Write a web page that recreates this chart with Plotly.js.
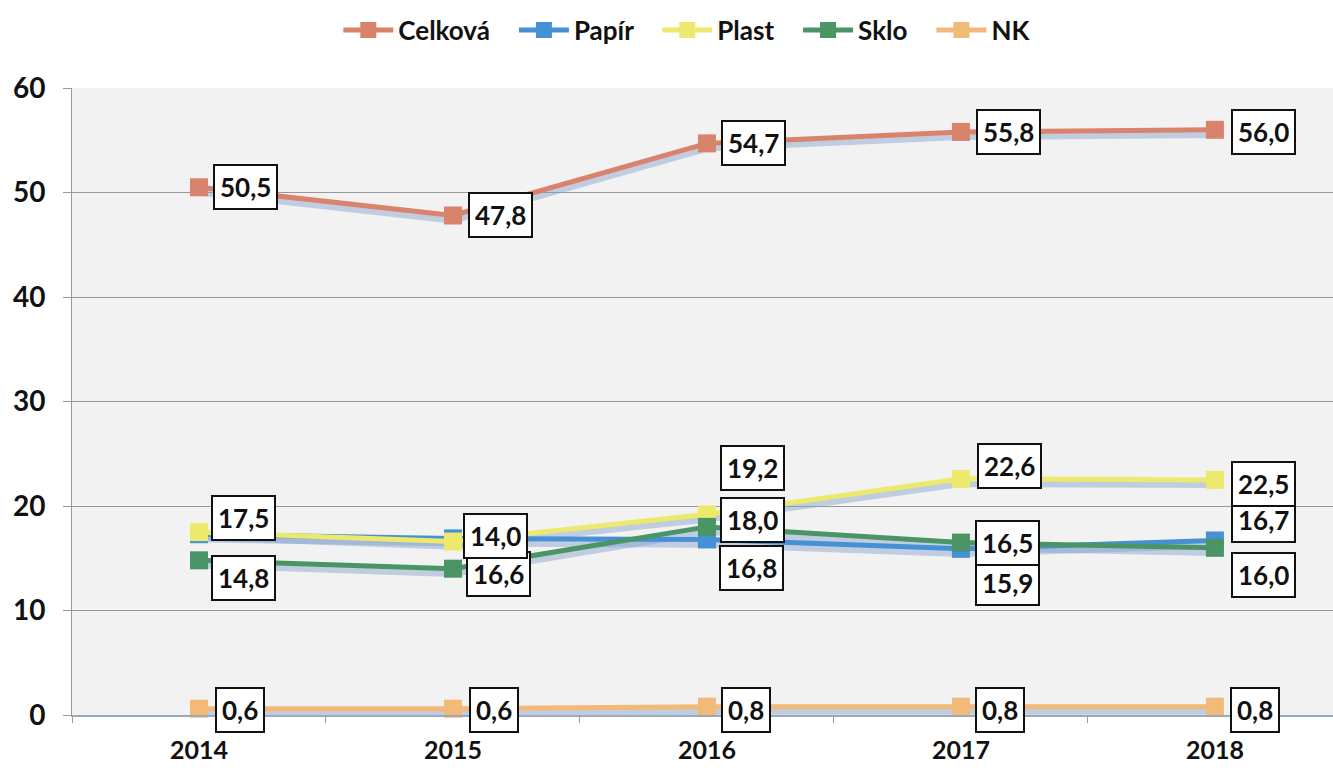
<!DOCTYPE html>
<html><head><meta charset="utf-8">
<script src="https://cdn.plot.ly/plotly-3.0.1.min.js"></script>
<style>html,body{margin:0;padding:0;background:#fff}#chart{width:1333px;height:768px}</style>
</head><body><div id="chart"></div>
<script>
// ---- data ----
const years = ['2014', '2015', '2016', '2017', '2018'];
const seriesNames = ['Celková', 'Papír', 'Plast', 'Sklo', 'NK'];
const celkova = [50.5, 47.8, 54.7, 55.8, 56.0];
const papir = [17.3, 16.9, 16.8, 15.9, 16.7];
const plast = [17.5, 16.6, 19.2, 22.6, 22.5];
const sklo = [14.8, 14.0, 18.0, 16.5, 16.0];
const nk = [0.6, 0.6, 0.8, 0.8, 0.8];
const yTicks = [0, 10, 20, 30, 40, 50, 60];

// ---- styles ----
const colors = ['#d9836c', '#4690d6', '#ece96c', '#4a9465', '#f3b979'];
const values = [celkova, papir, plast, sklo, nk];
// label offsets in px [xshift, yshift] per series and point (null = label hidden in the original)
const labelShift = {
  'Celková': [[47, 0], [48, 0], [47, 0], [48, 0], [49, -2]],
  'Papír': [null, null, [45, -29], [47, -34], [49, 20]],
  'Plast': [[45, 14], [46, -32], [46, 46], [49, 13], [49, -4]],
  'Sklo': [[45, -18], [43, 33], [46, 7], [47, 0], [49, -27]],
  'NK': [[41, -1], [41, -1], [39, -3], [39, -3], [40, -3]]
};
const labelOrder = ['Papír', 'Celková', 'Plast', 'Sklo', 'NK'];

const FONT = 'Lato, "Open Sans", sans-serif';
const NB = '\u00a0\u00a0\u00a0';
const traces = [];
// shadow traces (base axis, drawn below)
values.forEach((vals, i) => {
  traces.push({
    x: years, y: vals, xaxis: 'x', yaxis: 'y', type: 'scatter', mode: 'lines',
    line: {color: 'rgba(130,160,205,0.45)', width: 7}, showlegend: false, hoverinfo: 'skip'
  });
});
// main traces
values.forEach((vals, i) => {
  traces.push({
    x: years, y: vals, xaxis: 'x', yaxis: 'y2', type: 'scatter', mode: 'lines+markers',
    name: seriesNames[i] + NB,
    line: {color: colors[i], width: 5},
    marker: {color: colors[i], symbol: 'square', size: 18, line: {width: 0}},
    cliponaxis: false
  });
});

const annotations = [];
labelOrder.forEach(name => {
  const idx = seriesNames.indexOf(name);
  const vals = values[idx];
  vals.forEach((v, j) => {
    const s = labelShift[name][j];
    if (!s) return;
    annotations.push({
      xref: 'x', yref: 'y2', x: j, y: v,
      text: v.toFixed(1).replace('.', ','),
      showarrow: false,
      xshift: s[0], yshift: s[1],
      font: {family: FONT, size: 26, weight: 'bold', color: '#111'},
      bgcolor: '#ffffff', bordercolor: '#111', borderwidth: 2, borderpad: 5
    });
  });
});

const layout = {
  width: 1333, height: 768,
  paper_bgcolor: '#ffffff', plot_bgcolor: '#f2f2f2',
  margin: {l: 72, r: 0, t: 88, b: 53},
  font: {family: FONT, color: '#111'},
  showlegend: true,
  legend: {
    orientation: 'h', xref: 'container', yref: 'container',
    x: 0.522, xanchor: 'center', y: 1 - 30 / 768, yanchor: 'middle',
    font: {family: FONT, size: 26, weight: 'bold', color: '#111'},
    itemwidth: 50, tracegroupgap: 0, bgcolor: 'rgba(0,0,0,0)'
  },
  xaxis: {
    type: 'category', range: [-0.5, 4.465],
    tickson: 'boundaries', ticks: 'outside', ticklen: 6, tickcolor: '#999',
    showline: true, linecolor: '#9aaabb', linewidth: 1.5,
    showgrid: false, zeroline: false,
    tickfont: {family: FONT, size: 25, weight: 'bold', color: '#111'},
    ticklabelstandoff: 12
  },
  yaxis: {
    range: [0.45, 60.45], visible: false, showgrid: false, zeroline: false, fixedrange: true
  },
  yaxis2: {
    overlaying: 'y', side: 'left', range: [0, 60],
    tickvals: yTicks, ticktext: yTicks.map(String),
    showgrid: true, gridcolor: '#999', gridwidth: 1,
    zeroline: false, showline: true, linecolor: '#999', linewidth: 1,
    ticks: 'outside', ticklen: 8, tickcolor: '#999',
    tickfont: {family: FONT, size: 28, weight: 'bold', color: '#111'},
    ticklabelstandoff: 12
  },
  annotations: annotations
};

Plotly.newPlot('chart', traces, layout, {displayModeBar: false, staticPlot: true});
</script>
</body></html>
